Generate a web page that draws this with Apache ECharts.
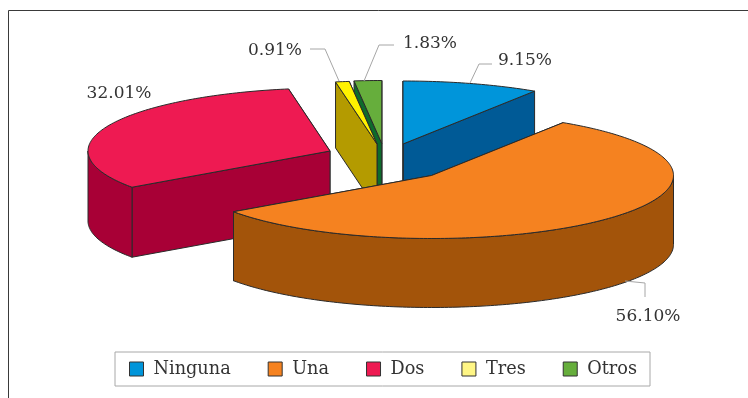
<!DOCTYPE html>
<html>
<head>
<meta charset="utf-8">
<script src="https://cdn.jsdelivr.net/npm/echarts@6/dist/echarts.min.js"></script>
<style>html,body{margin:0;padding:0;background:#fff}#c{width:748px;height:398px}</style>
</head>
<body>
<div id="c"></div>
<script>
var categories = ['Ninguna', 'Una', 'Dos', 'Tres', 'Otros'];
var values = [9.15, 56.10, 32.01, 0.91, 1.83];

var topColors = ['#0095DA', '#F58220', '#EE1A52', '#FFF200', '#66AE3C'];
var wallColors = ['#005A96', '#A3540A', '#A80036', '#B49B00', '#0E6B2C'];
var legendColors = ['#0095DA', '#F58220', '#EE1A52', '#FFF685', '#66AE3C'];
var drawOrder = [0, 4, 3, 2, 1];

var RX = 242, RY = 63;
var centers = [[403, 144], [431.5, 175.5], [330, 151], [377, 144], [381.8, 143.5]];
var depths = [69, 69, 70, 66, 69];
// leader line points (null = no line); label centre
var leaders = [
  [[470, 83], [479, 64], [492, 64]],
  [[625, 281], [645, 283], [645, 297]],
  null,
  [[339, 81], [325, 49], [310, 49]],
  [[364, 81], [379, 45], [394, 45]]
];
var labelPos = [[525, 60.5], [648, 316.5], [119, 93.5], [275, 50.5], [430, 43.5]];

var FONT = '"DejaVu Serif", serif';
var total = values.reduce(function (a, b) { return a + b; }, 0);
var starts = [], acc = 0;
values.forEach(function (v) { starts.push(acc / total * 360); acc += v; });

function pt(i, deg) {
  var r = deg * Math.PI / 180;
  return [centers[i][0] + RX * Math.sin(r), centers[i][1] - RY * Math.cos(r)];
}
function arc(i, a, b) {
  var out = [], n = Math.max(2, Math.ceil(Math.abs(b - a)));
  for (var k = 0; k <= n; k++) out.push(pt(i, a + (b - a) * k / n));
  return out;
}
function down(p, d) { return [p[0], p[1] + d]; }

function renderSlice(i) {
  return function (params, api) {
    var v = api.value(0);
    var a = starts[i], b = a + v / total * 360;
    var c = centers[i], d = depths[i];
    var children = [];
    var edge = { stroke: '#2a2a2a', lineWidth: 1, lineJoin: 'round' };
    function poly(points, fill) {
      children.push({ type: 'polygon', shape: { points: points },
        style: Object.assign({ fill: fill }, edge), silent: true });
    }
    function cut(deg) {
      var p = pt(i, deg);
      poly([p, c, down(c, d), down(p, d)], wallColors[i]);
    }
    cut(b);
    cut(a);
    var wa = Math.max(a, 90), wb = Math.min(b, 270);
    if (wb > wa) {
      var top = arc(i, wa, wb);
      poly(top.concat(top.map(function (p) { return down(p, d); }).reverse()), wallColors[i]);
    }
    poly([c].concat(arc(i, a, b)), topColors[i]);
    if (leaders[i]) {
      children.push({ type: 'polyline', shape: { points: leaders[i] },
        style: { fill: null, stroke: '#a6a6a6', lineWidth: 1 }, silent: true });
    }
    children.push({ type: 'text', x: labelPos[i][0], y: labelPos[i][1], silent: true,
      style: { text: v.toFixed(2) + '%', align: 'center', verticalAlign: 'middle',
        font: '17px ' + FONT, fill: '#333' } });
    return { type: 'group', children: children };
  };
}

var series = drawOrder.map(function (i) {
  return { type: 'custom', name: categories[i], coordinateSystem: 'none',
    renderItem: renderSlice(i), data: [[values[i]]], silent: true,
    animation: false, itemStyle: { color: legendColors[i] } };
});

var chart = echarts.init(document.getElementById('c'), null, { renderer: 'canvas' });
chart.setOption({
  animation: false,
  backgroundColor: '#fff',
  graphic: [{ type: 'polyline', silent: true,
    shape: { points: [[8.5, 398], [8.5, 10.5], [748, 10.5]] },
    style: { fill: null, stroke: '#3a3a3a', lineWidth: 1 } }],
  legend: {
    left: 115, top: 352, orient: 'horizontal',
    padding: [8, 13, 8, 14],
    borderColor: '#a8a8a8', borderWidth: 1, backgroundColor: '#fff',
    itemWidth: 14, itemHeight: 14, itemGap: 37, icon: 'rect',
    selectedMode: false,
    textStyle: { fontFamily: FONT, fontSize: 17.7, color: '#333', padding: [1, 0, 0, 5] },
    data: categories.map(function (n, i) {
      return { name: n, itemStyle: { color: legendColors[i], borderColor: '#333', borderWidth: 1 } };
    })
  },
  series: series
});
</script>
</body>
</html>
